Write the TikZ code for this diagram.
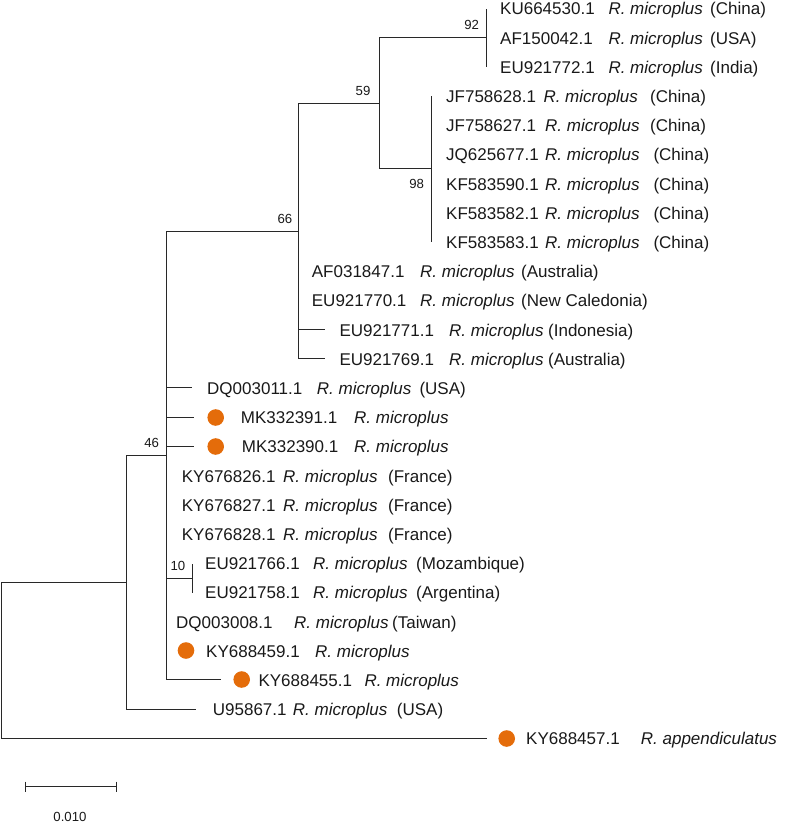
\documentclass[tikz,border=0pt]{standalone}
\usepackage{fontspec}
\setmainfont{Liberation Sans}
\definecolor{dotorange}{RGB}{228,108,10}
\definecolor{branchgray}{RGB}{40,40,40}
\definecolor{txtgray}{RGB}{25,25,25}
\newcommand{\tiplabel}[5]{\makebox[#1pt][l]{#2}\makebox[#3pt][l]{\textit{#4}}#5}
\begin{document}
\begin{tikzpicture}[x=1pt,y=-1pt,
  branch/.style={draw=branchgray,line width=1.5pt},
  leaflab/.style={anchor=base west,inner sep=0pt,text=txtgray,font=\fontsize{17pt}{20pt}\selectfont},
  boot/.style={anchor=center,inner sep=0pt,text=txtgray,font=\fontsize{13.2pt}{15pt}\selectfont},
  tipdot/.style={circle,fill=dotorange,draw=none,minimum size=16.6pt,inner sep=0pt}]
\useasboundingbox (0,0) rectangle (797,823);
% internal nodes
\coordinate (root) at (1.5,660.5);
\coordinate (nA) at (126.5,582.5);
\coordinate (n46) at (166.5,455.5);
\coordinate (n66) at (298.5,231.5);
\coordinate (n59) at (379.5,103.5);
\coordinate (n92) at (486.5,37.5);
\coordinate (n98) at (431.5,168.5);
\coordinate (n10) at (192.5,578.5);
% tips
\coordinate (t1) at (486.5,8.5);
\coordinate (t2) at (486.5,37.5);
\coordinate (t3) at (486.5,66.5);
\coordinate (t4) at (431.5,95.5);
\coordinate (t5) at (431.5,125.5);
\coordinate (t6) at (431.5,154.5);
\coordinate (t7) at (431.5,183.5);
\coordinate (t8) at (431.5,212.5);
\coordinate (t9) at (431.5,241.5);
\coordinate (t10) at (298.5,271.5);
\coordinate (t11) at (298.5,300.5);
\coordinate (t12) at (324.5,329.5);
\coordinate (t13) at (324.5,358.5);
\coordinate (t14) at (191.5,387.5);
\coordinate (t15) at (193.5,417.5);
\coordinate (t16) at (193.5,446.5);
\coordinate (t17) at (166.5,475.5);
\coordinate (t18) at (166.5,504.5);
\coordinate (t19) at (166.5,533.5);
\coordinate (t20) at (192.5,563.5);
\coordinate (t21) at (192.5,592.5);
\coordinate (t22) at (166.5,621.5);
\coordinate (t23) at (166.5,650.5);
\coordinate (t24) at (220.5,679.5);
\coordinate (t25) at (195.5,709.5);
\coordinate (t26) at (486.5,738.5);
% branches
\draw[branch] (root) |- (nA);
\draw[branch] (root) |- (t26);
\draw[branch] (nA) |- (n46);
\draw[branch] (nA) |- (t25);
\draw[branch] (n46) |- (n66);
\foreach \c in {t14,t15,t16,t17,t18,t19,n10,t22,t23,t24} \draw[branch] (n46) |- (\c);
\draw[branch] (n10) |- (t20);
\draw[branch] (n10) |- (t21);
\foreach \c in {n59,t10,t11,t12,t13} \draw[branch] (n66) |- (\c);
\draw[branch] (n59) |- (n92);
\draw[branch] (n59) |- (n98);
\foreach \c in {t1,t2,t3} \draw[branch] (n92) |- (\c);
\foreach \c in {t4,t5,t6,t7,t8,t9} \draw[branch] (n98) |- (\c);
% bootstrap values
\node[boot] (b92) at (471.7,25) {92};
\node[boot] (b59) at (363,90.7) {59};
\node[boot] (b98) at (416.7,184) {98};
\node[boot] (b66) at (285,218.5) {66};
\node[boot] (b46) at (151.7,442.7) {46};
\node[boot] (b10) at (178,565.7) {10};
% dots
\node[tipdot] (d15) at (215.7,417.5) {};
\node[tipdot] (d16) at (215.7,446.5) {};
\node[tipdot] (d23) at (186,650.5) {};
\node[tipdot] (d24) at (241.7,679.5) {};
\node[tipdot] (d26) at (506.7,738.5) {};
% leaf labels
\node[leaflab] (L1) at (500,14.8) {\tiplabel{108.3}{KU664530.1}{101.7}{R. microplus}{(China)}};
\node[leaflab] (L2) at (500,44) {\tiplabel{108.3}{AF150042.1}{101.7}{R. microplus}{(USA)}};
\node[leaflab] (L3) at (500,73.2) {\tiplabel{108.3}{EU921772.1}{101.7}{R. microplus}{(India)}};
\node[leaflab] (L4) at (446,102.4) {\tiplabel{97.3}{JF758628.1}{106.7}{R. microplus}{(China)}};
\node[leaflab] (L5) at (446,131.6) {\tiplabel{99}{JF758627.1}{105}{R. microplus}{(China)}};
\node[leaflab] (L6) at (446,160.8) {\tiplabel{99}{JQ625677.1}{108.3}{R. microplus}{(China)}};
\node[leaflab] (L7) at (446,190) {\tiplabel{99}{KF583590.1}{108.3}{R. microplus}{(China)}};
\node[leaflab] (L8) at (446,219.2) {\tiplabel{99}{KF583582.1}{108.3}{R. microplus}{(China)}};
\node[leaflab] (L9) at (446,248.4) {\tiplabel{99}{KF583583.1}{108.3}{R. microplus}{(China)}};
\node[leaflab] (L10) at (311.7,277.6) {\tiplabel{108.3}{AF031847.1}{101}{R. microplus}{(Australia)}};
\node[leaflab] (L11) at (311.7,306.8) {\tiplabel{108.3}{EU921770.1}{101}{R. microplus}{(New Caledonia)}};
\node[leaflab] (L12) at (339.3,336) {\tiplabel{109.7}{EU921771.1}{99}{R. microplus}{(Indonesia)}};
\node[leaflab] (L13) at (339.3,365.2) {\tiplabel{109.7}{EU921769.1}{99}{R. microplus}{(Australia)}};
\node[leaflab] (L14) at (207,394.4) {\tiplabel{109.7}{DQ003011.1}{102.6}{R. microplus}{(USA)}};
\node[leaflab] (L15) at (240.7,423.6) {\tiplabel{113.3}{MK332391.1}{0}{R. microplus}{}};
\node[leaflab] (L16) at (241.7,452.8) {\tiplabel{112.3}{MK332390.1}{0}{R. microplus}{}};
\node[leaflab] (L17) at (181.7,482) {\tiplabel{101.3}{KY676826.1}{105}{R. microplus}{(France)}};
\node[leaflab] (L18) at (181.7,511.2) {\tiplabel{101.3}{KY676827.1}{105}{R. microplus}{(France)}};
\node[leaflab] (L19) at (181.7,540.4) {\tiplabel{101.3}{KY676828.1}{105}{R. microplus}{(France)}};
\node[leaflab] (L20) at (205,569.6) {\tiplabel{108}{EU921766.1}{103}{R. microplus}{(Mozambique)}};
\node[leaflab] (L21) at (205,598.8) {\tiplabel{108}{EU921758.1}{103}{R. microplus}{(Argentina)}};
\node[leaflab] (L22) at (176,628) {\tiplabel{118}{DQ003008.1}{98}{R. microplus}{(Taiwan)}};
\node[leaflab] (L23) at (206,657.2) {\tiplabel{109}{KY688459.1}{0}{R. microplus}{}};
\node[leaflab] (L24) at (258.3,686.4) {\tiplabel{106}{KY688455.1}{0}{R. microplus}{}};
\node[leaflab] (L25) at (212.7,715.6) {\tiplabel{80}{U95867.1}{104}{R. microplus}{(USA)}};
\node[leaflab] (L26) at (526,744.8) {\tiplabel{114.7}{KY688457.1}{0}{R. appendiculatus}{}};
% scale bar
\coordinate (sb1) at (25.5,786.5);
\coordinate (sb2) at (116.5,786.5);
\draw[branch] (sb1) -- (sb2);
\draw[branch] ([yshift=5pt]sb1) -- ([yshift=-5pt]sb1);
\draw[branch] ([yshift=5pt]sb2) -- ([yshift=-5pt]sb2);
\node[boot] (sblab) at (70,816.7) {0.010};
\end{tikzpicture}
\end{document}
